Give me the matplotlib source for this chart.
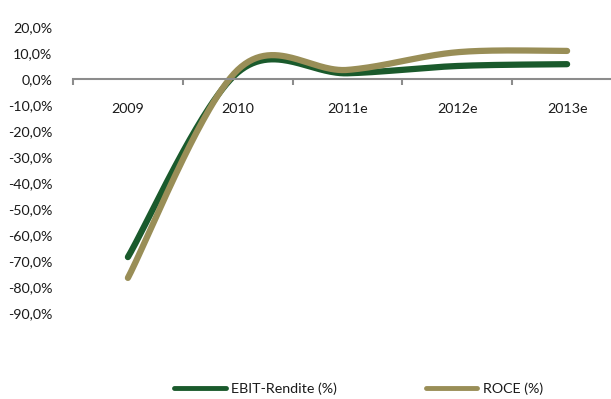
import matplotlib.pyplot as plt
import numpy as np

plt.rcParams['font.family'] = ['Lato', 'DejaVu Sans']

years = ['2009', '2010', '2011e', '2012e', '2013e']
ebit = [-68.5, 2.5, 2.2, 5.0, 5.7]
roce = [-76.5, 3.5, 3.5, 10.3, 10.8]
yticks = [20, 10, 0, -10, -20, -30, -40, -50, -60, -70, -80, -90]


def smooth(xs, ys, n=60):
    # excel-style smoothed line (bezier through points)
    xs = np.asarray(xs, float)
    ys = np.asarray(ys, float)
    pts = np.column_stack([xs, ys])
    out = []
    for i in range(len(pts) - 1):
        p0 = pts[i]
        p3 = pts[i + 1]
        prev = pts[i - 1] if i > 0 else pts[i]
        nxt = pts[i + 2] if i + 2 < len(pts) else pts[i + 1]
        p1 = p0 + (p3 - prev) / 6
        p2 = p3 - (nxt - p0) / 6
        t = np.linspace(0, 1, n)[:, None]
        seg = ((1 - t) ** 3) * p0 + 3 * ((1 - t) ** 2) * t * p1 + 3 * (1 - t) * t ** 2 * p2 + t ** 3 * p3
        out.append(seg)
    out = np.vstack(out)
    return out[:, 0], out[:, 1]


W, H = 611, 399
fig = plt.figure(figsize=(W / 100, H / 100), dpi=100)
ax = fig.add_axes([73 / W, 1 - 313 / H, 549 / W, (313 - 27) / H])

x = np.arange(len(years))
green = '#1a5a2c'
olive = '#998e57'
txt = '#1a1a1a'
fs = 10.3

sx, sy = smooth(x, ebit)
ax.plot(sx, sy, color=green, lw=4.5, solid_capstyle='round', label='EBIT-Rendite (%)')
sx, sy = smooth(x, roce)
ax.plot(sx, sy, color=olive, lw=4.5, solid_capstyle='round', label='ROCE (%)')

ax.set_xlim(-0.5, 4.5)
ax.set_ylim(-90, 20)

for s in ['top', 'right', 'left']:
    ax.spines[s].set_visible(False)
ax.spines['bottom'].set_position(('data', 0))
ax.spines['bottom'].set_color('#8c8c8c')
ax.spines['bottom'].set_linewidth(1.5)

ax.set_xticks(np.arange(-0.5, 5, 1))
ax.set_xticklabels([])
ax.tick_params(axis='x', which='major', length=4, width=1.5, color='#8c8c8c', direction='out')
ax.set_xticks(x, minor=True)
ax.set_xticklabels(years, minor=True)
ax.tick_params(axis='x', which='minor', length=0, pad=17, labelsize=fs, labelcolor=txt)

ax.set_yticks(yticks)
ax.set_yticklabels([f'{v:.1f}%'.replace('.', ',') for v in yticks])
ax.tick_params(axis='y', length=0, pad=15, labelsize=fs, labelcolor=txt)

leg = fig.legend(loc='center left', bbox_to_anchor=(174 / W, 1 - 389 / H), ncol=2, frameon=False,
                 fontsize=fs, handlelength=3.6, handletextpad=0.4, columnspacing=6.2,
                 borderaxespad=0, borderpad=0, labelcolor=txt)
for line in leg.get_lines():
    line.set_linewidth(3.5)

fig.savefig('out.png', dpi=100)
